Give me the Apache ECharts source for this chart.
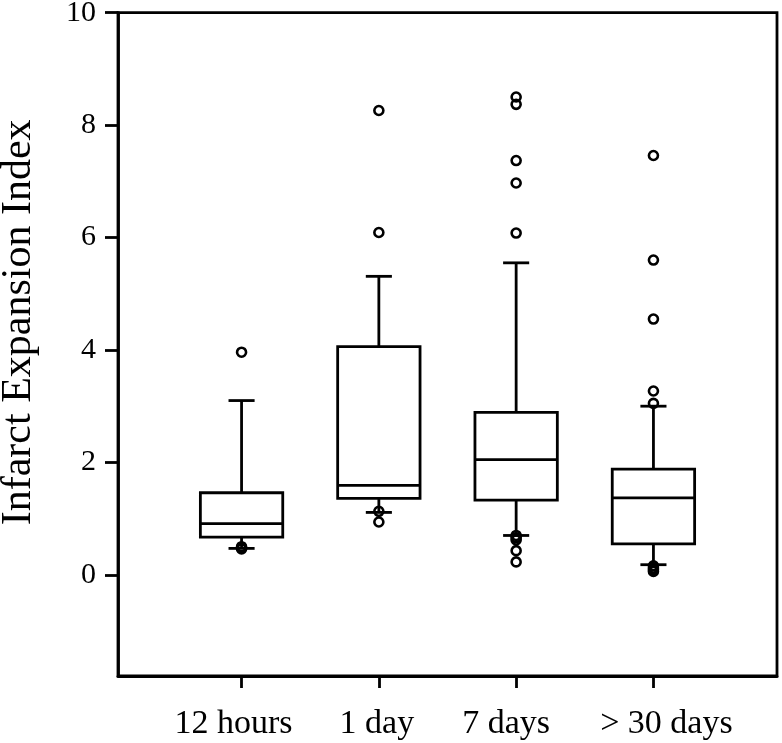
<!DOCTYPE html>
<html>
<head>
<meta charset="utf-8">
<script src="https://cdn.jsdelivr.net/npm/echarts@6/dist/echarts.min.js"></script>
<style>
html,body{margin:0;padding:0;background:#fff;}
#chart{width:782px;height:743px;}
</style>
</head>
<body>
<div id="chart"></div>
<script>
// ---- data ----
const categories = ['12 hours', '1 day', '7 days', '> 30 days'];
const whiskerLow  = [0.47, 1.11, 0.70, 0.18];
const q1          = [0.67, 1.36, 1.33, 0.55];
const medians     = [0.91, 1.59, 2.05, 1.37];
const q3          = [1.46, 4.06, 2.89, 1.88];
const whiskerHigh = [3.10, 5.31, 5.55, 3.00];
const outliers12h  = [3.96, 0.50, 0.48, 0.46];
const outliers1d   = [8.26, 6.09, 1.13, 0.94];
const outliers7d   = [8.50, 8.37, 7.37, 6.97, 6.08, 0.70, 0.66, 0.62, 0.43, 0.23];
const outliers30d  = [7.46, 5.60, 4.55, 3.27, 3.05, 0.16, 0.12, 0.09, 0.06];
const yTicks = [0, 2, 4, 6, 8, 10];
const catTicks = [0, 1, 2, 3];

// ---- build ----
const boxData = categories.map((c, i) => [i, whiskerLow[i], q1[i], medians[i], q3[i], whiskerHigh[i]]);
const outlierSets = [outliers12h, outliers1d, outliers7d, outliers30d];
const outlierData = [];
outlierSets.forEach((arr, i) => arr.forEach(v => outlierData.push([i, v])));

const FONT = "'Liberation Serif', 'Times New Roman', serif";
const LW = 2.8;
const labelStyle = { fontFamily: FONT, fontSize: 34, color: '#000' };
const rich = {
  c0: Object.assign({ padding: [0, 16, 0, 0] }, labelStyle),
  c1: Object.assign({ padding: [0, 4, 0, 0] }, labelStyle),
  c2: Object.assign({ padding: [0, 20, 0, 0] }, labelStyle),
  c3: Object.assign({ padding: [0, 0, 0, 26] }, labelStyle)
};

function renderBox(params, api) {
  const x = api.value(0);
  const pMin = api.coord([x, api.value(1)]);
  const pQ1 = api.coord([x, api.value(2)]);
  const pMed = api.coord([x, api.value(3)]);
  const pQ3 = api.coord([x, api.value(4)]);
  const pMax = api.coord([x, api.value(5)]);
  const half = api.size([0.6, 0])[0] / 2;
  const cap = api.size([0.19, 0])[0] / 2;
  const cx = pMed[0];
  const st = { stroke: '#000', lineWidth: LW, fill: null };
  return {
    type: 'group',
    children: [
      { type: 'line', shape: { x1: cx, y1: pQ3[1], x2: cx, y2: pMax[1] }, style: st },
      { type: 'line', shape: { x1: cx - cap, y1: pMax[1], x2: cx + cap, y2: pMax[1] }, style: st },
      { type: 'line', shape: { x1: cx, y1: pQ1[1], x2: cx, y2: pMin[1] }, style: st },
      { type: 'line', shape: { x1: cx - cap, y1: pMin[1], x2: cx + cap, y2: pMin[1] }, style: st },
      { type: 'rect', shape: { x: cx - half, y: pQ3[1], width: 2 * half, height: pQ1[1] - pQ3[1] },
        style: { stroke: '#000', lineWidth: LW, fill: '#fff' } },
      { type: 'line', shape: { x1: cx - half, y1: pMed[1], x2: cx + half, y2: pMed[1] }, style: st }
    ]
  };
}

const chart = echarts.init(document.getElementById('chart'), null, { renderer: 'canvas' });
chart.setOption({
  backgroundColor: '#fff',
  animation: false,
  grid: {
    left: 118, right: 5, top: 12.7, bottom: 67,
    outerBoundsMode: 'none', containLabel: false,
    show: true, borderColor: '#000', borderWidth: LW, backgroundColor: 'transparent'
  },
  xAxis: {
    type: 'value', min: -0.9, max: 3.9,
    splitLine: { show: false },
    axisLine: { show: true, onZero: false, lineStyle: { color: '#000', width: LW } },
    axisTick: { show: true, customValues: catTicks, length: 12, lineStyle: { color: '#000', width: LW } },
    axisLabel: Object.assign({
      customValues: catTicks,
      formatter: v => { const i = Math.round(v); return '{c' + i + '|' + categories[i] + '}'; },
      margin: 31,
      rich: rich
    }, labelStyle)
  },
  yAxis: {
    type: 'value', min: -1.8, max: 10,
    splitLine: { show: false },
    axisLine: { show: true, onZero: false, lineStyle: { color: '#000', width: LW } },
    axisTick: { show: true, customValues: yTicks, length: 13, lineStyle: { color: '#000', width: LW } },
    axisLabel: { customValues: yTicks, fontFamily: FONT, fontSize: 30, color: '#000', margin: 22 },
    name: 'Infarct Expansion Index',
    nameLocation: 'middle',
    nameGap: 78,
    nameTextStyle: { fontFamily: FONT, fontSize: 42, color: '#000', padding: [0, 0, 0, 44] }
  },
  series: [
    {
      type: 'custom',
      renderItem: renderBox,
      data: boxData,
      encode: { x: 0, y: [1, 2, 3, 4, 5] },
      z: 2
    },
    {
      type: 'scatter',
      data: outlierData,
      symbol: 'circle',
      symbolSize: 9,
      itemStyle: { color: 'rgba(0,0,0,0)', borderColor: '#000', borderWidth: 2.6, opacity: 1 },
      z: 3
    }
  ]
});
</script>
</body>
</html>
